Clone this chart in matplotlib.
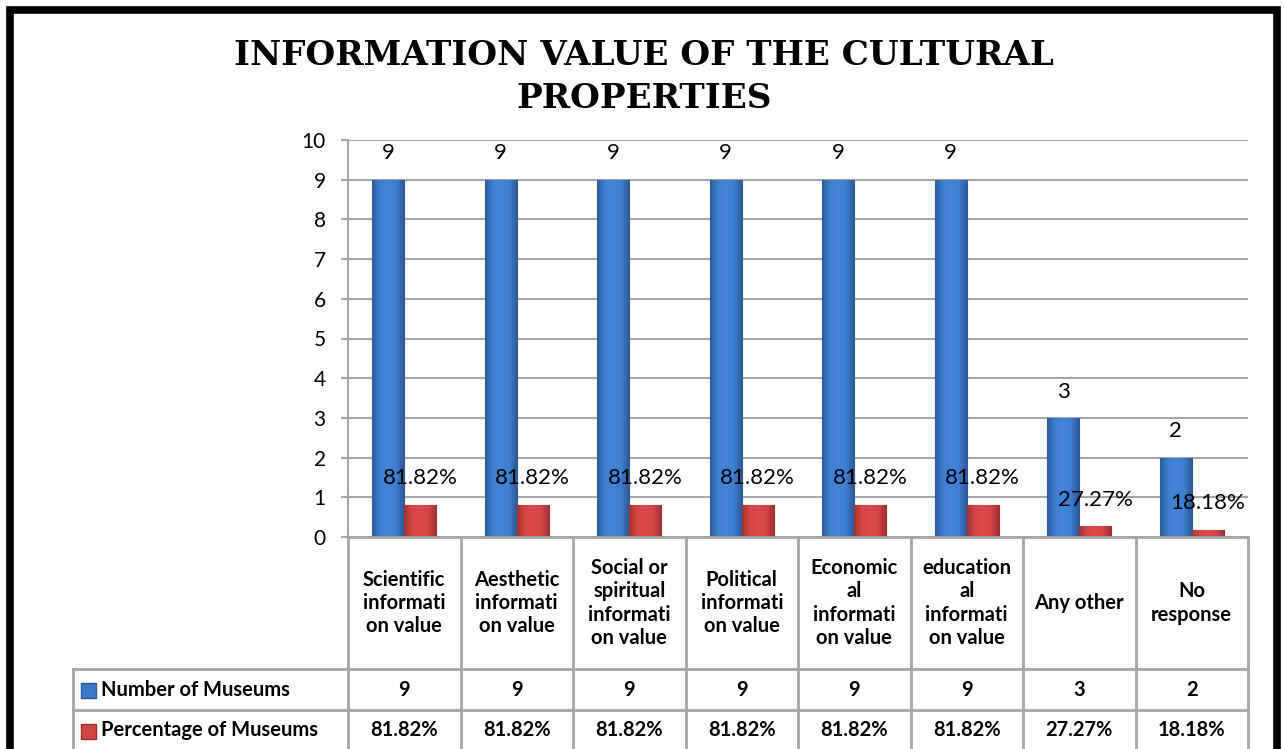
import numpy as np
import matplotlib.pyplot as plt
from matplotlib.patches import Rectangle
from matplotlib.lines import Line2D
from matplotlib.colors import LinearSegmentedColormap

# data
categories = ["Scientific\ninformati\non value", "Aesthetic\ninformati\non value",
              "Social or\nspiritual\ninformati\non value", "Political\ninformati\non value",
              "Economic\nal\ninformati\non value", "education\nal\ninformati\non value",
              "Any other", "No\nresponse"]
museums = [9, 9, 9, 9, 9, 9, 3, 2]
percent = [81.82, 81.82, 81.82, 81.82, 81.82, 81.82, 27.27, 18.18]
series_names = ["Number of Museums", "Percentage of Museums"]
yticks = list(range(0, 11))

W, H = 1284, 749
BLUE, BLUE_E = "#3C78C8", "#2A5A9E"
RED, RED_E = "#D24646", "#A02C2C"
GRID = "#A6A6A6"
FONT = "Lato"

blue_cm = LinearSegmentedColormap.from_list("b", ["#2C5C9C", "#3F7ED0", "#4384D6", "#3F7ED0", "#2C5C9C"])
red_cm = LinearSegmentedColormap.from_list("r", ["#A43232", "#D64545", "#DC4A4A", "#D64545", "#A43232"])

fig = plt.figure(figsize=(W / 100, H / 100), dpi=100)

# plot area in pixel terms of the reference
L, R, T, B = 348, 1248, 140, 537
ax = fig.add_axes([L / W, 1 - B / H, (R - L) / W, (B - T) / H])
ax.set_facecolor("none")

x = np.arange(len(museums))
bw = 0.284
pct_frac = [p / 100 for p in percent]
b1 = ax.bar(x - bw / 2, museums, bw, color=BLUE, edgecolor=BLUE_E, linewidth=0.8, zorder=3)
b2 = ax.bar(x + bw / 2, pct_frac, bw, color=RED, edgecolor=RED_E, linewidth=0.8, zorder=3)

# shaded fill inside each bar
grad = np.linspace(0, 1, 64).reshape(1, -1)
for bars, cm in [(b1, blue_cm), (b2, red_cm)]:
    for p in bars:
        x0, y0 = p.get_x(), p.get_y()
        im = ax.imshow(grad, cmap=cm, aspect="auto", zorder=3.1,
                       extent=[x0, x0 + p.get_width(), y0, y0 + p.get_height()])
        im.set_clip_path(p)

for xi, v in zip(x, museums):
    ax.annotate(str(v), (xi - bw / 2, v), xytext=(0, 19), textcoords="offset points",
                ha="center", va="center", fontsize=16, family=FONT, zorder=4)
for xi, v, p in zip(x, pct_frac, percent):
    ax.annotate(f"{p:.2f}%", (xi + bw / 2, v), xytext=(0, 19), textcoords="offset points",
                ha="center", va="center", fontsize=16, family=FONT, zorder=4)

ax.set_xlim(-0.5, len(museums) - 0.5)
ax.set_ylim(0, 10)
ax.set_yticks(yticks)
ax.set_xticks([])
ax.yaxis.grid(True, color=GRID, linewidth=1.5, zorder=0)
ax.set_axisbelow(True)
for s in ["top", "right", "bottom"]:
    ax.spines[s].set_visible(False)
ax.spines["left"].set_color(GRID)
ax.spines["left"].set_linewidth(1.5)
ax.tick_params(axis="y", length=5, width=1.5, color=GRID, pad=11, labelsize=15)
for lab in ax.get_yticklabels():
    lab.set_family(FONT)

# overlay in pixel coordinates for the data table, title and frame
cv = fig.add_axes([0, 0, 1, 1], zorder=5)
cv.set_xlim(0, W)
cv.set_ylim(H, 0)
cv.axis("off")

col_w = (R - L) / len(museums)
row1, row2, tab_left = 669, 710, 73
lw = 2
cv.add_line(Line2D([L, R], [B, B], color=GRID, lw=lw))
cv.add_line(Line2D([tab_left, R], [row1, row1], color=GRID, lw=lw))
cv.add_line(Line2D([tab_left, R], [row2, row2], color=GRID, lw=lw))
cv.add_line(Line2D([tab_left, tab_left], [row1, H], color=GRID, lw=lw))
for i in range(len(museums) + 1):
    xx = L + i * col_w
    cv.add_line(Line2D([xx, xx], [B, H], color=GRID, lw=lw))

TS = 14.5
for i, c in enumerate(categories):
    cx = L + (i + 0.5) * col_w
    cv.text(cx, (B + row1) / 2, c, ha="center", va="center", fontsize=TS,
            fontweight="bold", family=FONT, linespacing=1.2)
    cv.text(cx, (row1 + row2) / 2, str(museums[i]), ha="center", va="center",
            fontsize=TS, fontweight="bold", family=FONT)
    cv.text(cx, (row2 + H) / 2 + 1, f"{percent[i]:.2f}%", ha="center", va="center",
            fontsize=TS, fontweight="bold", family=FONT)

for name, yy, fc, ec in [(series_names[0], (row1 + row2) / 2, BLUE, BLUE_E),
                         (series_names[1], (row2 + H) / 2 + 1, RED, RED_E)]:
    cv.add_patch(Rectangle((81, yy - 7), 15, 15, facecolor=fc, edgecolor=ec, lw=1))
    cv.text(101, yy, name, ha="left", va="center", fontsize=TS,
            fontweight="bold", family=FONT)

cv.text(644, 77, "INFORMATION VALUE OF THE CULTURAL\nPROPERTIES", ha="center",
        va="center", fontsize=24.6, fontweight="bold", family="DejaVu Serif",
        linespacing=1.35)

# black outer frame
cv.add_line(Line2D([10, 10, 1277, 1277], [H + 5, 9.5, 9.5, H + 5], color="black",
                   lw=5.5, solid_joinstyle="miter"))

fig.savefig("out.png", dpi=100)
